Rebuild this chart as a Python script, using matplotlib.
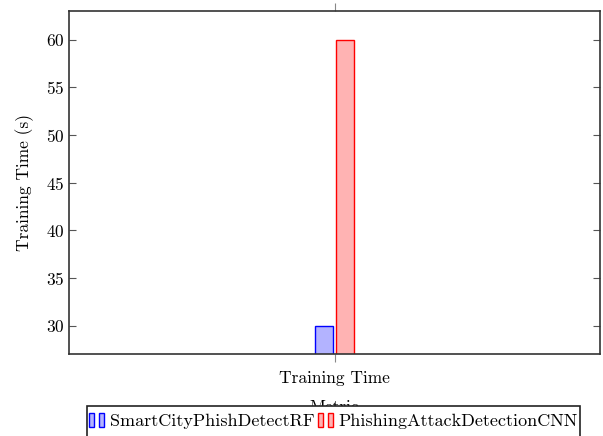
import matplotlib.pyplot as plt
from matplotlib.legend_handler import HandlerBase
from matplotlib.patches import Rectangle

# training time per model (seconds)
categories = ["Training Time"]
models = ["SmartCityPhishDetectRF", "PhishingAttackDetectionCNN"]
rf_times = [30]
cnn_times = [60]

fills = [(0.7, 0.7, 1.0), (1.0, 0.7, 0.7)]
edges = ["blue", "red"]

plt.rcParams["font.family"] = ["cmr10", "DejaVu Serif"]
plt.rcParams["axes.formatter.use_mathtext"] = True


class TwoBarHandler(HandlerBase):
    # draws the little double bar used by ybar legends
    def create_artists(self, legend, orig_handle, xdescent, ydescent,
                       width, height, fontsize, trans):
        w = width * 0.3
        h = height * 1.15
        y0 = -ydescent - height * 0.1
        artists = []
        for x0 in (0.0, 0.55 * width):
            r = Rectangle((x0 - xdescent, y0), w, h,
                          facecolor=orig_handle.get_facecolor(),
                          edgecolor=orig_handle.get_edgecolor(),
                          linewidth=1.0, transform=trans)
            artists.append(r)
        return artists


fig = plt.figure(figsize=(6.03, 4.36), dpi=100)
ax = fig.add_axes([69 / 603, 1 - 354 / 436, 531 / 603, 343 / 436])

x = range(len(categories))
bar_w = 0.068
off = 0.041
b1 = ax.bar([i - off for i in x], rf_times, bar_w, bottom=0,
            color=fills[0], edgecolor=edges[0], linewidth=1.0, label=models[0])
b2 = ax.bar([i + off for i in x], cnn_times, bar_w, bottom=0,
            color=fills[1], edgecolor=edges[1], linewidth=1.0, label=models[1])

ax.set_xlim(-1, 1)
ax.set_ylim(27.05, 63.0)
ax.set_xticks(list(x))
ax.set_xticklabels(categories, fontsize=12.5)
ax.set_yticks([30, 35, 40, 45, 50, 55, 60])
ax.tick_params(axis="y", direction="in", length=5, width=0.8,
               right=True, labelsize=12.5, colors="#555555", labelcolor="black")
ax.tick_params(axis="x", direction="out", length=6, width=0.8,
               top=True, labelsize=12.5, colors="#888888", labelcolor="black", pad=6)
for s in ax.spines.values():
    s.set_linewidth(1.2)
    s.set_color("#333333")
    s.set_zorder(3)

ax.set_ylabel("Training Time (s)", fontsize=12.5, labelpad=8)
ax.set_xlabel("Metric", fontsize=12.5, labelpad=10)

# legend box below the axes, partly cut off by the figure edge
box = Rectangle((87 / 603, -0.02), 493 / 603, 0.02 + 1 - 406 / 436,
                transform=fig.transFigure, facecolor="white",
                edgecolor="#222222", linewidth=1.2, zorder=4)
fig.patches.append(box)

leg = fig.legend([b1.patches[0], b2.patches[0]], models,
                 loc="center", bbox_to_anchor=(333.5 / 603, 1 - 421 / 436),
                 ncol=2, fontsize=13, frameon=False,
                 handler_map={Rectangle: TwoBarHandler()},
                 handlelength=1.0, handletextpad=0.15, columnspacing=0.2,
                 borderpad=0, borderaxespad=0)
leg.set_zorder(5)

fig.savefig("out.png", dpi=100)
